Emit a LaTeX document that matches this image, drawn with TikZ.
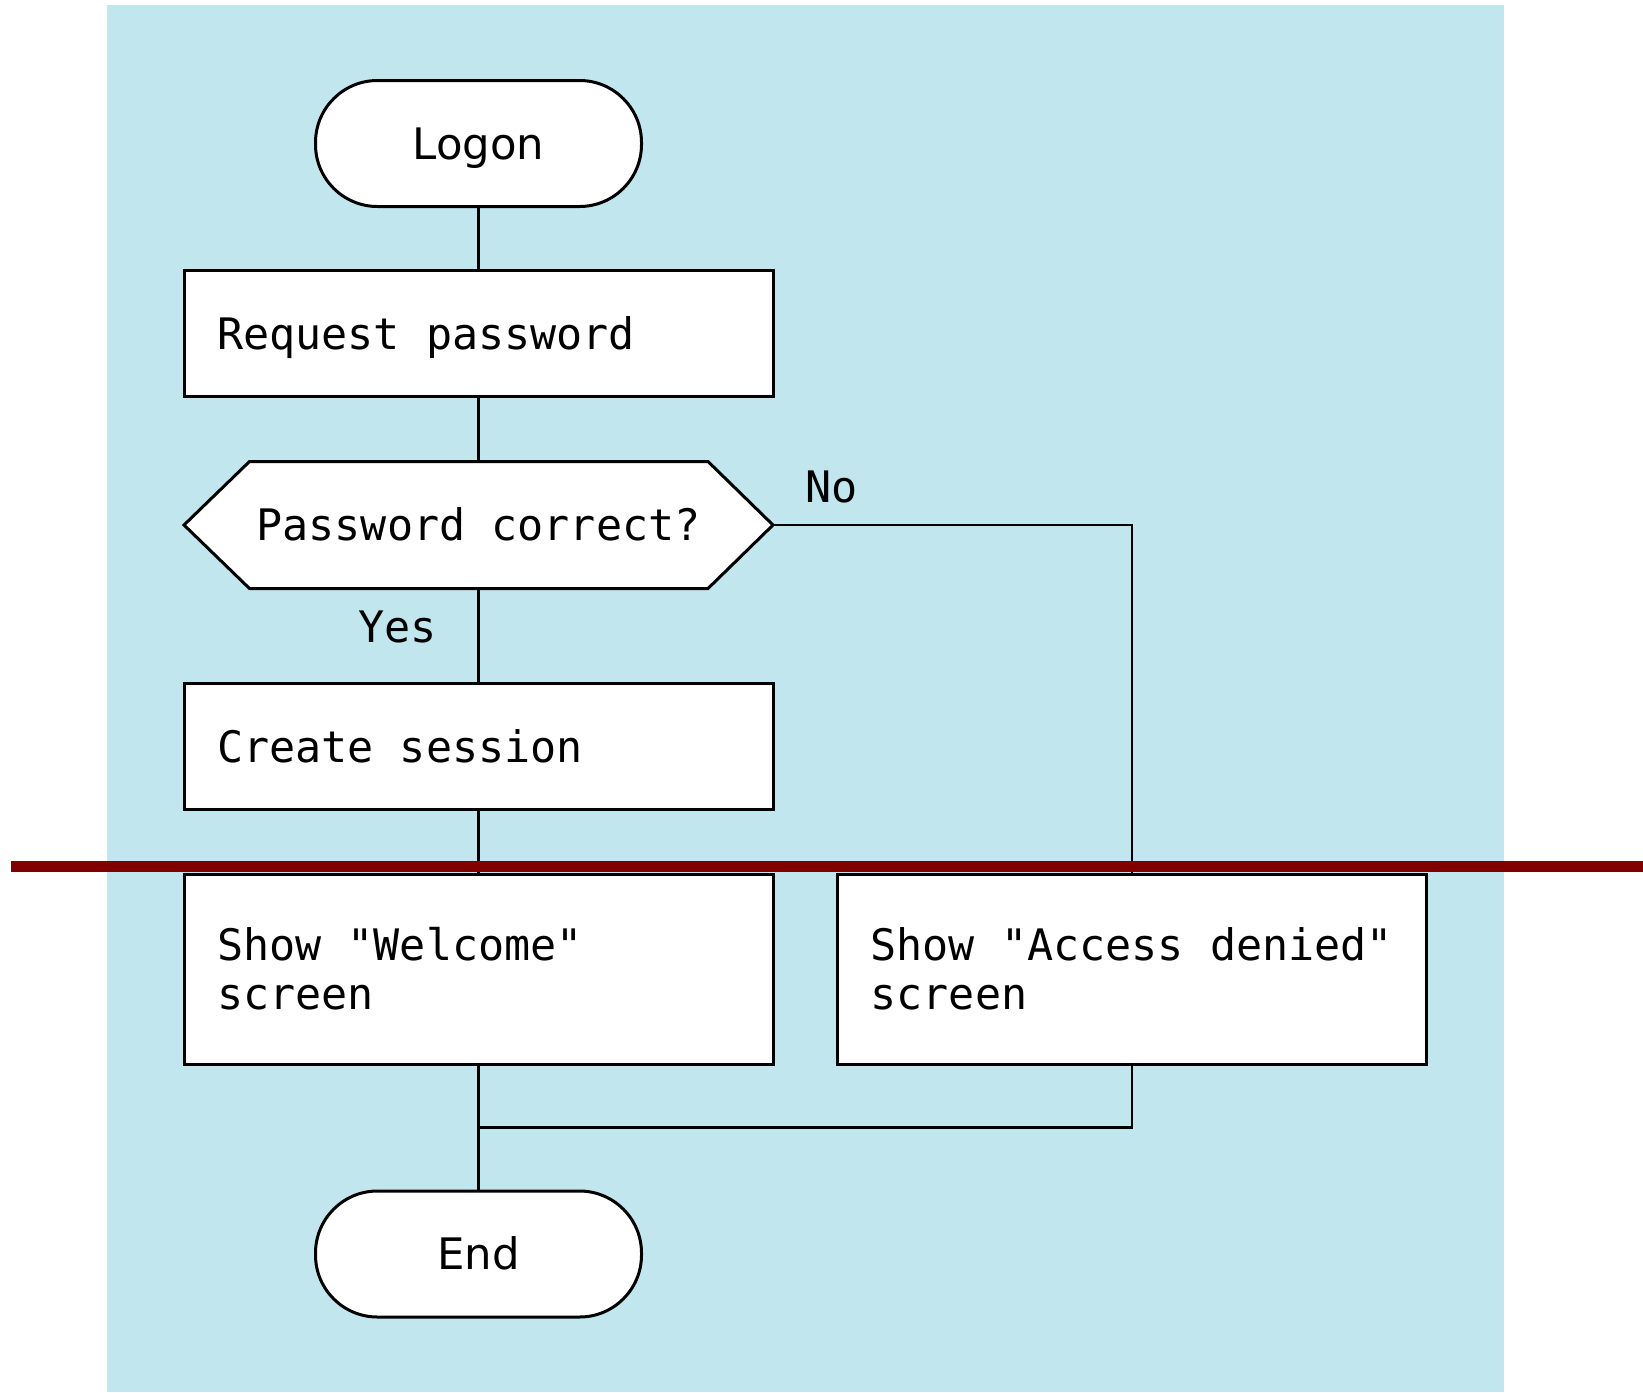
\documentclass[tikz,border=0pt]{standalone}
\usepackage{fontspec}
\setmainfont{DejaVu Sans}
\setmonofont{DejaVu Sans Mono}
\usepackage{tikz}
\usetikzlibrary{calc}
\definecolor{skyblue}{RGB}{193,230,238}
\definecolor{darkred}{RGB}{128,0,0}

\begin{document}
\begin{tikzpicture}[x=1pt,y=-1pt,
	box/.style={draw=black,fill=white,line width=3pt},
	term/.style={box,rounded corners=62pt,minimum width=326pt,minimum height=126pt,
		font=\fontsize{43.4}{49}\selectfont,text height=31pt,text depth=0pt},
	proc/.style={box,rectangle,inner xsep=33pt,text width=523pt,align=left,
		execute at begin node={\spaceskip=0pt\xspaceskip=0pt\relax},
		minimum height=126pt,font=\fontsize{43.4}{49}\selectfont\ttfamily},
	dec/.style={rectangle,minimum width=589pt,minimum height=127pt,
		font=\fontsize{43.4}{49}\selectfont\ttfamily,text height=31pt,text depth=0pt},
	lbl/.style={font=\fontsize{43.4}{49}\selectfont\ttfamily,text height=31pt,text depth=0pt,inner sep=0pt},
	conn/.style={line width=2.5pt}]
	 	 		\useasboundingbox (0,0) rectangle (1643,1392);
	 	 		\fill[skyblue] (107,5) rectangle (1504,1392);
	 	 		% decision outline first, so the text sits on top
	 	 		\coordinate (c) at (478.5,525);
	 	 		\filldraw[box] ($(c)+(-294.5,0)$) -- ($(c)+(-229,-63.5)$) -- ($(c)+(229.5,-63.5)$) -- ($(c)+(294.5,0)$) -- ($(c)+(229.5,63.5)$) -- ($(c)+(-229,63.5)$) -- cycle;
	 	 		\node[term] (logon) at (478.5,143.5) {Logon};
	 	 		\node[proc,text height=31pt,text depth=0pt] (request) at (478.5,333.5) {Request password};
	 	 		\node[dec] (check) at (c) {Password correct?};
	 	 		\node[proc,text height=31pt,text depth=0pt] (create) at (478.5,746.5) {Create session};
	 	 		\node[proc,minimum height=190pt] (welcome) at (478.5,969) {Show "Welcome"\\screen};
	 	 		\node[proc,minimum height=190pt] (denied) at (1132,969) {Show "Access denied"\\screen};
	 	 		\node[term] (end) at (478.5,1254) {End};
	 	 		\node[lbl] (no) at (831.5,487) {No};
	 	 		\node[lbl] (yes) at (397.5,627) {Yes};
	 	 		\coordinate (merge) at (478.5,1127.5);
	 	 		\draw[conn] (logon) -- (request);
	 	 		\draw[conn] (request) -- (check);
	 	 		\draw[conn] (check) -- (create);
	 	 		\draw[conn] (create) -- (welcome);
	 	 		\draw[conn] (check.east) -| (denied.north);
	 	 		\draw[conn] (welcome) -- (end);
	 	 		\draw[conn] (denied.south) |- (merge);
	 	 		% the red bar goes over everything
	 	 		\draw[darkred,line width=11.5pt] (10.5,866.5) -- (1643,866.5);
\end{tikzpicture}
\end{document}
